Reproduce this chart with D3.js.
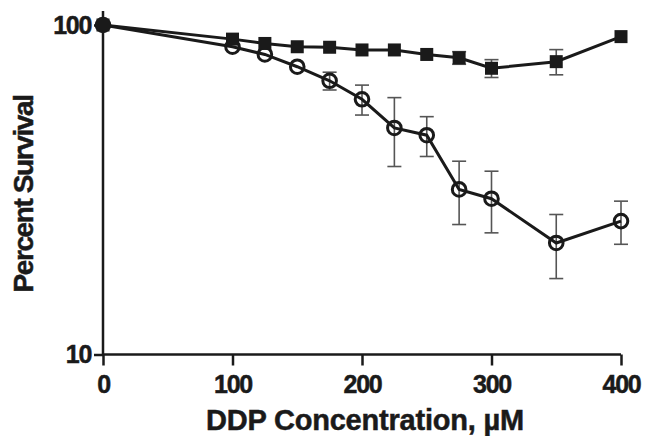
<!DOCTYPE html>
<html>
<head>
<meta charset="utf-8">
<script src="https://cdn.jsdelivr.net/npm/d3@7"></script>
<style>
  body { margin: 0; background: #fff; }
  text { font-family: "Liberation Sans", Arial, sans-serif; font-weight: bold; fill: #1a1a1a; stroke: #1a1a1a; stroke-width: 0.5px; }
</style>
</head>
<body>
<svg id="chart" width="645" height="436"></svg>
<script>
var doses = [0, 100, 125, 150, 175, 200, 225, 250, 275, 300, 350, 400];
// filled squares
var squareMean = [100, 90.6, 87.9, 85.9, 85.6, 84.0, 84.0, 81.4, 79.5, 73.9, 77.4, 92.2];
var squareErr  = [0, 0, 0, 0, 0, 0, 0, 0, 3.5, 4.6, 6.8, 0];
// open circles
var circleMean = [100, 85.9, 81.4, 74.7, 67.7, 59.5, 48.7, 46.3, 31.7, 29.7, 21.8, 25.4];
var circleErr  = [0, 0, 0, 0, 4.2, 6.2, 11.5, 6.4, 6.9, 6.3, 4.8, 3.8];
var xTicks = [0, 100, 200, 300, 400];
var yTicks = [10, 100];

var ink = '#1a1a1a',
    errColor = '#555';

var svg = d3.select("#chart"),
    x = d3.scaleLinear().domain([0, 400]).range([103, 621]),
    y = d3.scaleLog().domain([10, 100]).range([354.5, 25]);

function toPoints(means, errs) {
  return doses.map(function(d, i) { return {x: d, y: means[i], e: errs[i]}; });
}
var squares = toPoints(squareMean, squareErr),
    circles = toPoints(circleMean, circleErr);

// axes
var xAxis = svg.append("g")
    .attr("transform", "translate(0," + y(10) + ")")
    .call(d3.axisBottom(x).tickValues(xTicks).tickSize(11).tickPadding(10).tickFormat(d3.format("d")));
var yAxis = svg.append("g")
    .attr("transform", "translate(" + x(0) + ",0)")
    .call(d3.axisLeft(y).tickValues(yTicks).tickSize(9).tickPadding(3).tickFormat(d3.format("d")));

[xAxis, yAxis].forEach(function(ax) {
  ax.select(".domain").remove();
  ax.selectAll(".tick line").attr("stroke", ink).attr("stroke-width", 2.5);
  ax.selectAll(".tick text")
    .style("font-size", "25px")
    .style("letter-spacing", "-1.3px")
    .attr("fill", ink);
});
xAxis.selectAll(".tick text").attr("dy", "0.68em");

svg.append("line")
    .attr("x1", x(0)).attr("x2", x(400))
    .attr("y1", y(10)).attr("y2", y(10))
    .attr("stroke", ink).attr("stroke-width", 2.5);
svg.append("line")
    .attr("x1", x(0)).attr("x2", x(0))
    .attr("y1", y(10)).attr("y2", y(100) - 14)
    .attr("stroke", ink).attr("stroke-width", 2.5);

// axis titles
svg.append("text")
    .attr("x", 365).attr("y", 430)
    .attr("text-anchor", "middle")
    .style("font-size", "29px")
    .style("letter-spacing", "-0.2px")
    .text("DDP Concentration, µM");
svg.append("text")
    .attr("transform", "translate(33,194) rotate(-90)")
    .attr("text-anchor", "middle")
    .style("font-size", "28px")
    .style("letter-spacing", "-1.4px")
    .text("Percent Survival");

// error bars
function drawErrors(data) {
  var g = svg.append("g")
      .attr("stroke", errColor)
      .attr("stroke-width", 1.6)
      .attr("fill", "none");
  var bars = g.selectAll("g").data(data.filter(function(d) { return d.e > 0; }))
      .enter().append("g");
  bars.append("line")
      .attr("x1", function(d) { return x(d.x); })
      .attr("x2", function(d) { return x(d.x); })
      .attr("y1", function(d) { return y(d.y + d.e); })
      .attr("y2", function(d) { return y(d.y - d.e); });
  [1, -1].forEach(function(s) {
    bars.append("line")
        .attr("x1", function(d) { return x(d.x) - 7; })
        .attr("x2", function(d) { return x(d.x) + 7; })
        .attr("y1", function(d) { return y(d.y + s * d.e); })
        .attr("y2", function(d) { return y(d.y + s * d.e); });
  });
}
drawErrors(circles);
drawErrors(squares);

var line = d3.line()
    .x(function(d) { return x(d.x); })
    .y(function(d) { return y(d.y); });

svg.append("path").datum(circles)
    .attr("d", line)
    .attr("fill", "none")
    .attr("stroke", ink)
    .attr("stroke-width", 3);
svg.append("path").datum(squares)
    .attr("d", line)
    .attr("fill", "none")
    .attr("stroke", ink)
    .attr("stroke-width", 3);

svg.append("g").selectAll("circle").data(circles)
    .enter().append("circle")
    .attr("cx", function(d) { return x(d.x); })
    .attr("cy", function(d) { return y(d.y); })
    .attr("r", 6.8)
    .attr("fill", "none")
    .attr("stroke", ink)
    .attr("stroke-width", 3);

svg.append("g").selectAll("rect").data(squares)
    .enter().append("rect")
    .attr("x", function(d) { return x(d.x) - 6.5; })
    .attr("y", function(d) { return y(d.y) - 6.5; })
    .attr("width", 13)
    .attr("height", 13)
    .attr("fill", ink);
</script>
</body>
</html>
